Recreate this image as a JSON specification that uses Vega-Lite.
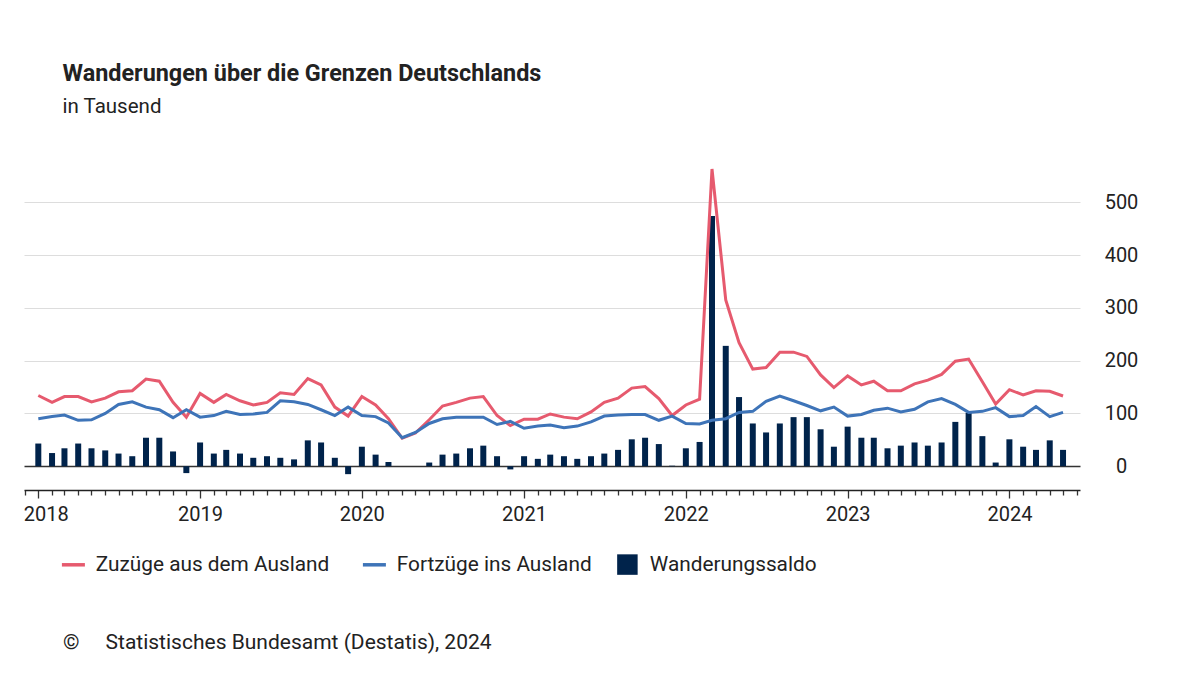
{
  "$schema": "https://vega.github.io/schema/vega-lite/v6.json",
  "width": 1056,
  "height": 330,
  "autosize": {"type": "none"},
  "padding": {"left": 24, "top": 160, "right": 120, "bottom": 185},
  "background": "white",
  "title": {
    "text": "Wanderungen über die Grenzen Deutschlands",
    "subtitle": "in Tausend",
    "anchor": "start",
    "dx": 53,
    "offset": 42,
    "font": "Roboto",
    "fontSize": 23.4,
    "fontWeight": "bold",
    "color": "#222222",
    "subtitleFont": "Roboto",
    "subtitleFontSize": 20.5,
    "subtitleColor": "#222222",
    "subtitlePadding": 10
  },
  "config": {"view": {"stroke": null}, "font": "Roboto"},
  "data": {
    "values": [
      {"monat": "2018-01-01", "zuzuege": 134, "fortzuege": 90, "saldo": 43},
      {"monat": "2018-02-01", "zuzuege": 121, "fortzuege": 94, "saldo": 25},
      {"monat": "2018-03-01", "zuzuege": 132, "fortzuege": 97, "saldo": 34},
      {"monat": "2018-04-01", "zuzuege": 132, "fortzuege": 87, "saldo": 43},
      {"monat": "2018-05-01", "zuzuege": 122, "fortzuege": 88, "saldo": 34},
      {"monat": "2018-06-01", "zuzuege": 129, "fortzuege": 100, "saldo": 30},
      {"monat": "2018-07-01", "zuzuege": 141, "fortzuege": 117, "saldo": 24},
      {"monat": "2018-08-01", "zuzuege": 143, "fortzuege": 122, "saldo": 19},
      {"monat": "2018-09-01", "zuzuege": 165, "fortzuege": 112, "saldo": 54},
      {"monat": "2018-10-01", "zuzuege": 161, "fortzuege": 107, "saldo": 54},
      {"monat": "2018-11-01", "zuzuege": 121, "fortzuege": 92, "saldo": 28},
      {"monat": "2018-12-01", "zuzuege": 93, "fortzuege": 107, "saldo": -13},
      {"monat": "2019-01-01", "zuzuege": 138, "fortzuege": 93, "saldo": 45},
      {"monat": "2019-02-01", "zuzuege": 121, "fortzuege": 96, "saldo": 24},
      {"monat": "2019-03-01", "zuzuege": 136, "fortzuege": 104, "saldo": 31},
      {"monat": "2019-04-01", "zuzuege": 124, "fortzuege": 98, "saldo": 24},
      {"monat": "2019-05-01", "zuzuege": 116, "fortzuege": 99, "saldo": 16},
      {"monat": "2019-06-01", "zuzuege": 121, "fortzuege": 102, "saldo": 19},
      {"monat": "2019-07-01", "zuzuege": 139, "fortzuege": 124, "saldo": 16},
      {"monat": "2019-08-01", "zuzuege": 136, "fortzuege": 122, "saldo": 13},
      {"monat": "2019-09-01", "zuzuege": 166, "fortzuege": 117, "saldo": 49},
      {"monat": "2019-10-01", "zuzuege": 154, "fortzuege": 107, "saldo": 45},
      {"monat": "2019-11-01", "zuzuege": 112, "fortzuege": 96, "saldo": 16},
      {"monat": "2019-12-01", "zuzuege": 95, "fortzuege": 112, "saldo": -15},
      {"monat": "2020-01-01", "zuzuege": 132, "fortzuege": 96, "saldo": 37},
      {"monat": "2020-02-01", "zuzuege": 116, "fortzuege": 94, "saldo": 22},
      {"monat": "2020-03-01", "zuzuege": 90, "fortzuege": 82, "saldo": 8},
      {"monat": "2020-04-01", "zuzuege": 53, "fortzuege": 54, "saldo": 0},
      {"monat": "2020-05-01", "zuzuege": 63, "fortzuege": 64, "saldo": 0},
      {"monat": "2020-06-01", "zuzuege": 88, "fortzuege": 81, "saldo": 7},
      {"monat": "2020-07-01", "zuzuege": 114, "fortzuege": 90, "saldo": 22},
      {"monat": "2020-08-01", "zuzuege": 121, "fortzuege": 93, "saldo": 24},
      {"monat": "2020-09-01", "zuzuege": 129, "fortzuege": 93, "saldo": 34},
      {"monat": "2020-10-01", "zuzuege": 132, "fortzuege": 93, "saldo": 39},
      {"monat": "2020-11-01", "zuzuege": 96, "fortzuege": 79, "saldo": 19},
      {"monat": "2020-12-01", "zuzuege": 77, "fortzuege": 85, "saldo": -6},
      {"monat": "2021-01-01", "zuzuege": 89, "fortzuege": 72, "saldo": 19},
      {"monat": "2021-02-01", "zuzuege": 89, "fortzuege": 76, "saldo": 14},
      {"monat": "2021-03-01", "zuzuege": 99, "fortzuege": 78, "saldo": 22},
      {"monat": "2021-04-01", "zuzuege": 93, "fortzuege": 73, "saldo": 19},
      {"monat": "2021-05-01", "zuzuege": 90, "fortzuege": 76, "saldo": 14},
      {"monat": "2021-06-01", "zuzuege": 103, "fortzuege": 84, "saldo": 19},
      {"monat": "2021-07-01", "zuzuege": 121, "fortzuege": 95, "saldo": 24},
      {"monat": "2021-08-01", "zuzuege": 129, "fortzuege": 97, "saldo": 31},
      {"monat": "2021-09-01", "zuzuege": 148, "fortzuege": 98, "saldo": 51},
      {"monat": "2021-10-01", "zuzuege": 151, "fortzuege": 98, "saldo": 54},
      {"monat": "2021-11-01", "zuzuege": 128, "fortzuege": 87, "saldo": 42},
      {"monat": "2021-12-01", "zuzuege": 96, "fortzuege": 95, "saldo": 1},
      {"monat": "2022-01-01", "zuzuege": 116, "fortzuege": 81, "saldo": 34},
      {"monat": "2022-02-01", "zuzuege": 127, "fortzuege": 80, "saldo": 46},
      {"monat": "2022-03-01", "zuzuege": 563, "fortzuege": 87, "saldo": 474},
      {"monat": "2022-04-01", "zuzuege": 315, "fortzuege": 90, "saldo": 228},
      {"monat": "2022-05-01", "zuzuege": 234, "fortzuege": 102, "saldo": 131},
      {"monat": "2022-06-01", "zuzuege": 184, "fortzuege": 104, "saldo": 81},
      {"monat": "2022-07-01", "zuzuege": 187, "fortzuege": 123, "saldo": 64},
      {"monat": "2022-08-01", "zuzuege": 216, "fortzuege": 133, "saldo": 81},
      {"monat": "2022-09-01", "zuzuege": 216, "fortzuege": 124, "saldo": 93},
      {"monat": "2022-10-01", "zuzuege": 208, "fortzuege": 115, "saldo": 93},
      {"monat": "2022-11-01", "zuzuege": 173, "fortzuege": 105, "saldo": 70},
      {"monat": "2022-12-01", "zuzuege": 149, "fortzuege": 112, "saldo": 37},
      {"monat": "2023-01-01", "zuzuege": 171, "fortzuege": 95, "saldo": 75},
      {"monat": "2023-02-01", "zuzuege": 154, "fortzuege": 98, "saldo": 54},
      {"monat": "2023-03-01", "zuzuege": 161, "fortzuege": 106, "saldo": 54},
      {"monat": "2023-04-01", "zuzuege": 143, "fortzuege": 110, "saldo": 34},
      {"monat": "2023-05-01", "zuzuege": 143, "fortzuege": 103, "saldo": 39},
      {"monat": "2023-06-01", "zuzuege": 156, "fortzuege": 108, "saldo": 45},
      {"monat": "2023-07-01", "zuzuege": 163, "fortzuege": 122, "saldo": 39},
      {"monat": "2023-08-01", "zuzuege": 174, "fortzuege": 128, "saldo": 45},
      {"monat": "2023-09-01", "zuzuege": 199, "fortzuege": 117, "saldo": 84},
      {"monat": "2023-10-01", "zuzuege": 203, "fortzuege": 102, "saldo": 101},
      {"monat": "2023-11-01", "zuzuege": 160, "fortzuege": 104, "saldo": 57},
      {"monat": "2023-12-01", "zuzuege": 118, "fortzuege": 111, "saldo": 7},
      {"monat": "2024-01-01", "zuzuege": 145, "fortzuege": 94, "saldo": 51},
      {"monat": "2024-02-01", "zuzuege": 135, "fortzuege": 96, "saldo": 37},
      {"monat": "2024-03-01", "zuzuege": 143, "fortzuege": 113, "saldo": 31},
      {"monat": "2024-04-01", "zuzuege": 142, "fortzuege": 94, "saldo": 49},
      {"monat": "2024-05-01", "zuzuege": 133, "fortzuege": 102, "saldo": 31}
    ]
  },
  "encoding": {
    "x": {
      "field": "monat",
      "type": "temporal",
      "scale": {
        "type": "utc",
        "domain": [
          {"year": 2017, "month": 12, "date": 11, "utc": true},
          {"year": 2024, "month": 5, "date": 28, "utc": true}
        ]
      },
      "axis": {
        "title": null,
        "grid": false,
        "tickCount": {"interval": "month", "step": 1},
        "labelExpr": "utcmonth(datum.value) === 0 ? utcFormat(datum.value, '%Y') : ''",
        "labelFont": "Roboto",
        "labelFontSize": 20,
        "labelColor": "#222222",
        "labelPadding": 6,
        "labelFlush": 15,
        "labelFlushOffset": 15,
        "labelOverlap": false,
        "domainColor": "#222222",
        "domainWidth": 1.5,
        "tickColor": "#333333",
        "tickWidth": 1.3,
        "tickSize": {"condition": {"test": "utcmonth(datum.value) === 0", "value": 8}, "value": 5}
      }
    }
  },
  "layer": [
    {
      "mark": {"type": "bar", "width": 6},
      "encoding": {
        "y": {
          "field": "saldo",
          "type": "quantitative",
          "scale": {"domain": [-45, 580], "nice": false, "zero": false},
          "axis": {
            "title": null,
            "orient": "right",
            "values": [0, 100, 200, 300, 400, 500],
            "domain": false,
            "ticks": false,
            "labelFont": "Roboto",
            "labelFontSize": 20,
            "labelColor": "#222222",
            "labelAlign": "center",
            "labelPadding": 41,
            "gridColor": {"condition": {"test": "datum.value === 0", "value": "#333333"}, "value": "#dddddd"},
            "gridWidth": {"condition": {"test": "datum.value === 0", "value": 1.4}, "value": 1}
          }
        },
        "y2": {"datum": 0},
        "color": {
          "datum": "saldo",
          "scale": {
            "domain": ["zuzuege", "fortzuege", "saldo"],
            "range": ["#e65a6e", "#3e74b8", "#00234b"]
          },
          "legend": {
            "orient": "none",
            "legendX": 39,
            "legendY": 394,
            "direction": "horizontal",
            "padding": 0,
            "title": "©\u00a0\u00a0\u00a0\u00a0\u00a0Statistisches Bundesamt (Destatis), 2024",
            "titleOrient": "bottom",
            "titleAnchor": "start",
            "titlePadding": 57,
            "titleFont": "Roboto",
            "titleFontSize": 21,
            "titleFontWeight": "normal",
            "titleColor": "#222222",
            "titleLimit": 1000,
            "labelFont": "Roboto",
            "labelFontSize": 20.8,
            "labelColor": "#222222",
            "labelOffset": 12,
            "labelLimit": 400,
            "columnPadding": 25,
            "symbolSize": 529,
            "labelExpr": "datum.value === 'zuzuege' ? 'Zuzüge aus dem Ausland' : datum.value === 'fortzuege' ? 'Fortzüge ins Ausland' : 'Wanderungssaldo'",
            "encode": {
              "symbols": {
                "update": {
                  "shape": {"signal": "datum.value === 'saldo' ? 'square' : 'stroke'"},
                  "size": {"signal": "datum.value === 'saldo' ? 420 : 529"},
                  "strokeWidth": {"signal": "datum.value === 'saldo' ? 0 : 3.5"},
                  "fill": {"signal": "scale('color', datum.value)"},
                  "stroke": {"signal": "scale('color', datum.value)"},
                  "opacity": {"value": 1}
                }
              }
            }
          }
        }
      }
    },
    {
      "transform": [{"fold": ["zuzuege", "fortzuege"], "as": ["serie", "wert"]}],
      "mark": {"type": "line", "strokeWidth": 3},
      "encoding": {
        "y": {"field": "wert", "type": "quantitative"},
        "color": {"field": "serie", "type": "nominal"}
      }
    }
  ]
}
